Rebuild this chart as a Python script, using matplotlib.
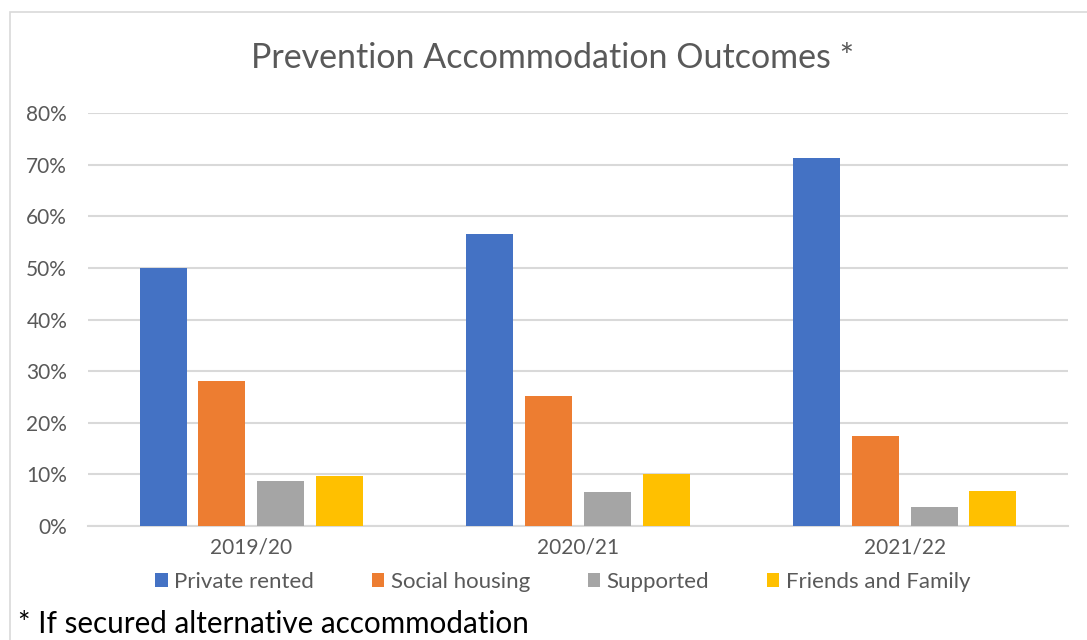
import numpy as np
import matplotlib.pyplot as plt
from matplotlib.patches import Rectangle
from matplotlib.ticker import PercentFormatter

# data
years = ["2019/20", "2020/21", "2021/22"]
series = ["Private rented", "Social housing", "Supported", "Friends and Family"]
private_rented = [0.500, 0.565, 0.713]
social_housing = [0.280, 0.252, 0.175]
supported = [0.087, 0.065, 0.037]
friends_family = [0.097, 0.100, 0.068]
colors = ["#4472C4", "#ED7D31", "#A5A5A5", "#FFC000"]

plt.rcParams['font.family'] = ['Lato', 'DejaVu Sans']

W, H = 1087, 640
fig = plt.figure(figsize=(W / 100, H / 100), dpi=100)

# chart frame
fig.patches.append(Rectangle((10 / W, -0.1), 1.2, 1 - 12 / H + 0.1,
                             transform=fig.transFigure, fill=False,
                             edgecolor="#d9d9d9", linewidth=1.2))

ax = fig.add_axes([88 / W, 1 - 526 / H, (1068 - 88) / W, (526 - 113) / H])

x = np.arange(len(years))
bw = 0.144
pitch = 0.18
vals = [private_rented, social_housing, supported, friends_family]
handles = []
for i, (name, v) in enumerate(zip(series, vals)):
    b = ax.bar(x + (i - 1.5) * pitch, v, width=bw, color=colors[i], label=name, zorder=3)
    handles.append(b)

ax.set_xlim(-0.5, 2.5)
ax.set_ylim(0, 0.8)
ax.set_yticks(np.arange(0, 0.81, 0.1))
ax.yaxis.set_major_formatter(PercentFormatter(1.0, decimals=0))
ax.grid(axis="y", color="#d9d9d9", linewidth=1.5, zorder=0)
for s in ["top", "right", "left"]:
    ax.spines[s].set_visible(False)
ax.spines["bottom"].set_color("#d9d9d9")
ax.spines["bottom"].set_linewidth(1.5)
ax.tick_params(length=0, colors="#595959", labelsize=15)
ax.tick_params(axis="y", pad=15)
ax.tick_params(axis="x", pad=8)
ax.set_xticks(x)
ax.set_xticklabels(years)

fig.text(553 / W, 1 - 58 / H, "Prevention Accommodation Outcomes *",
         ha="center", va="center", fontsize=24.5, color="#595959")

fig.legend(handles=handles, labels=series, loc="center", bbox_to_anchor=(563 / W, 1 - 582 / H),
           ncol=4, frameon=False, fontsize=16, handlelength=0.55, handleheight=0.55,
           handletextpad=0.3, columnspacing=2.6, labelcolor="#595959")

fig.text(18 / W, 1 - 624 / H, "* If secured alternative accommodation",
         ha="left", va="center", fontsize=21.3, color="black")

fig.savefig("out.png", dpi=100)
